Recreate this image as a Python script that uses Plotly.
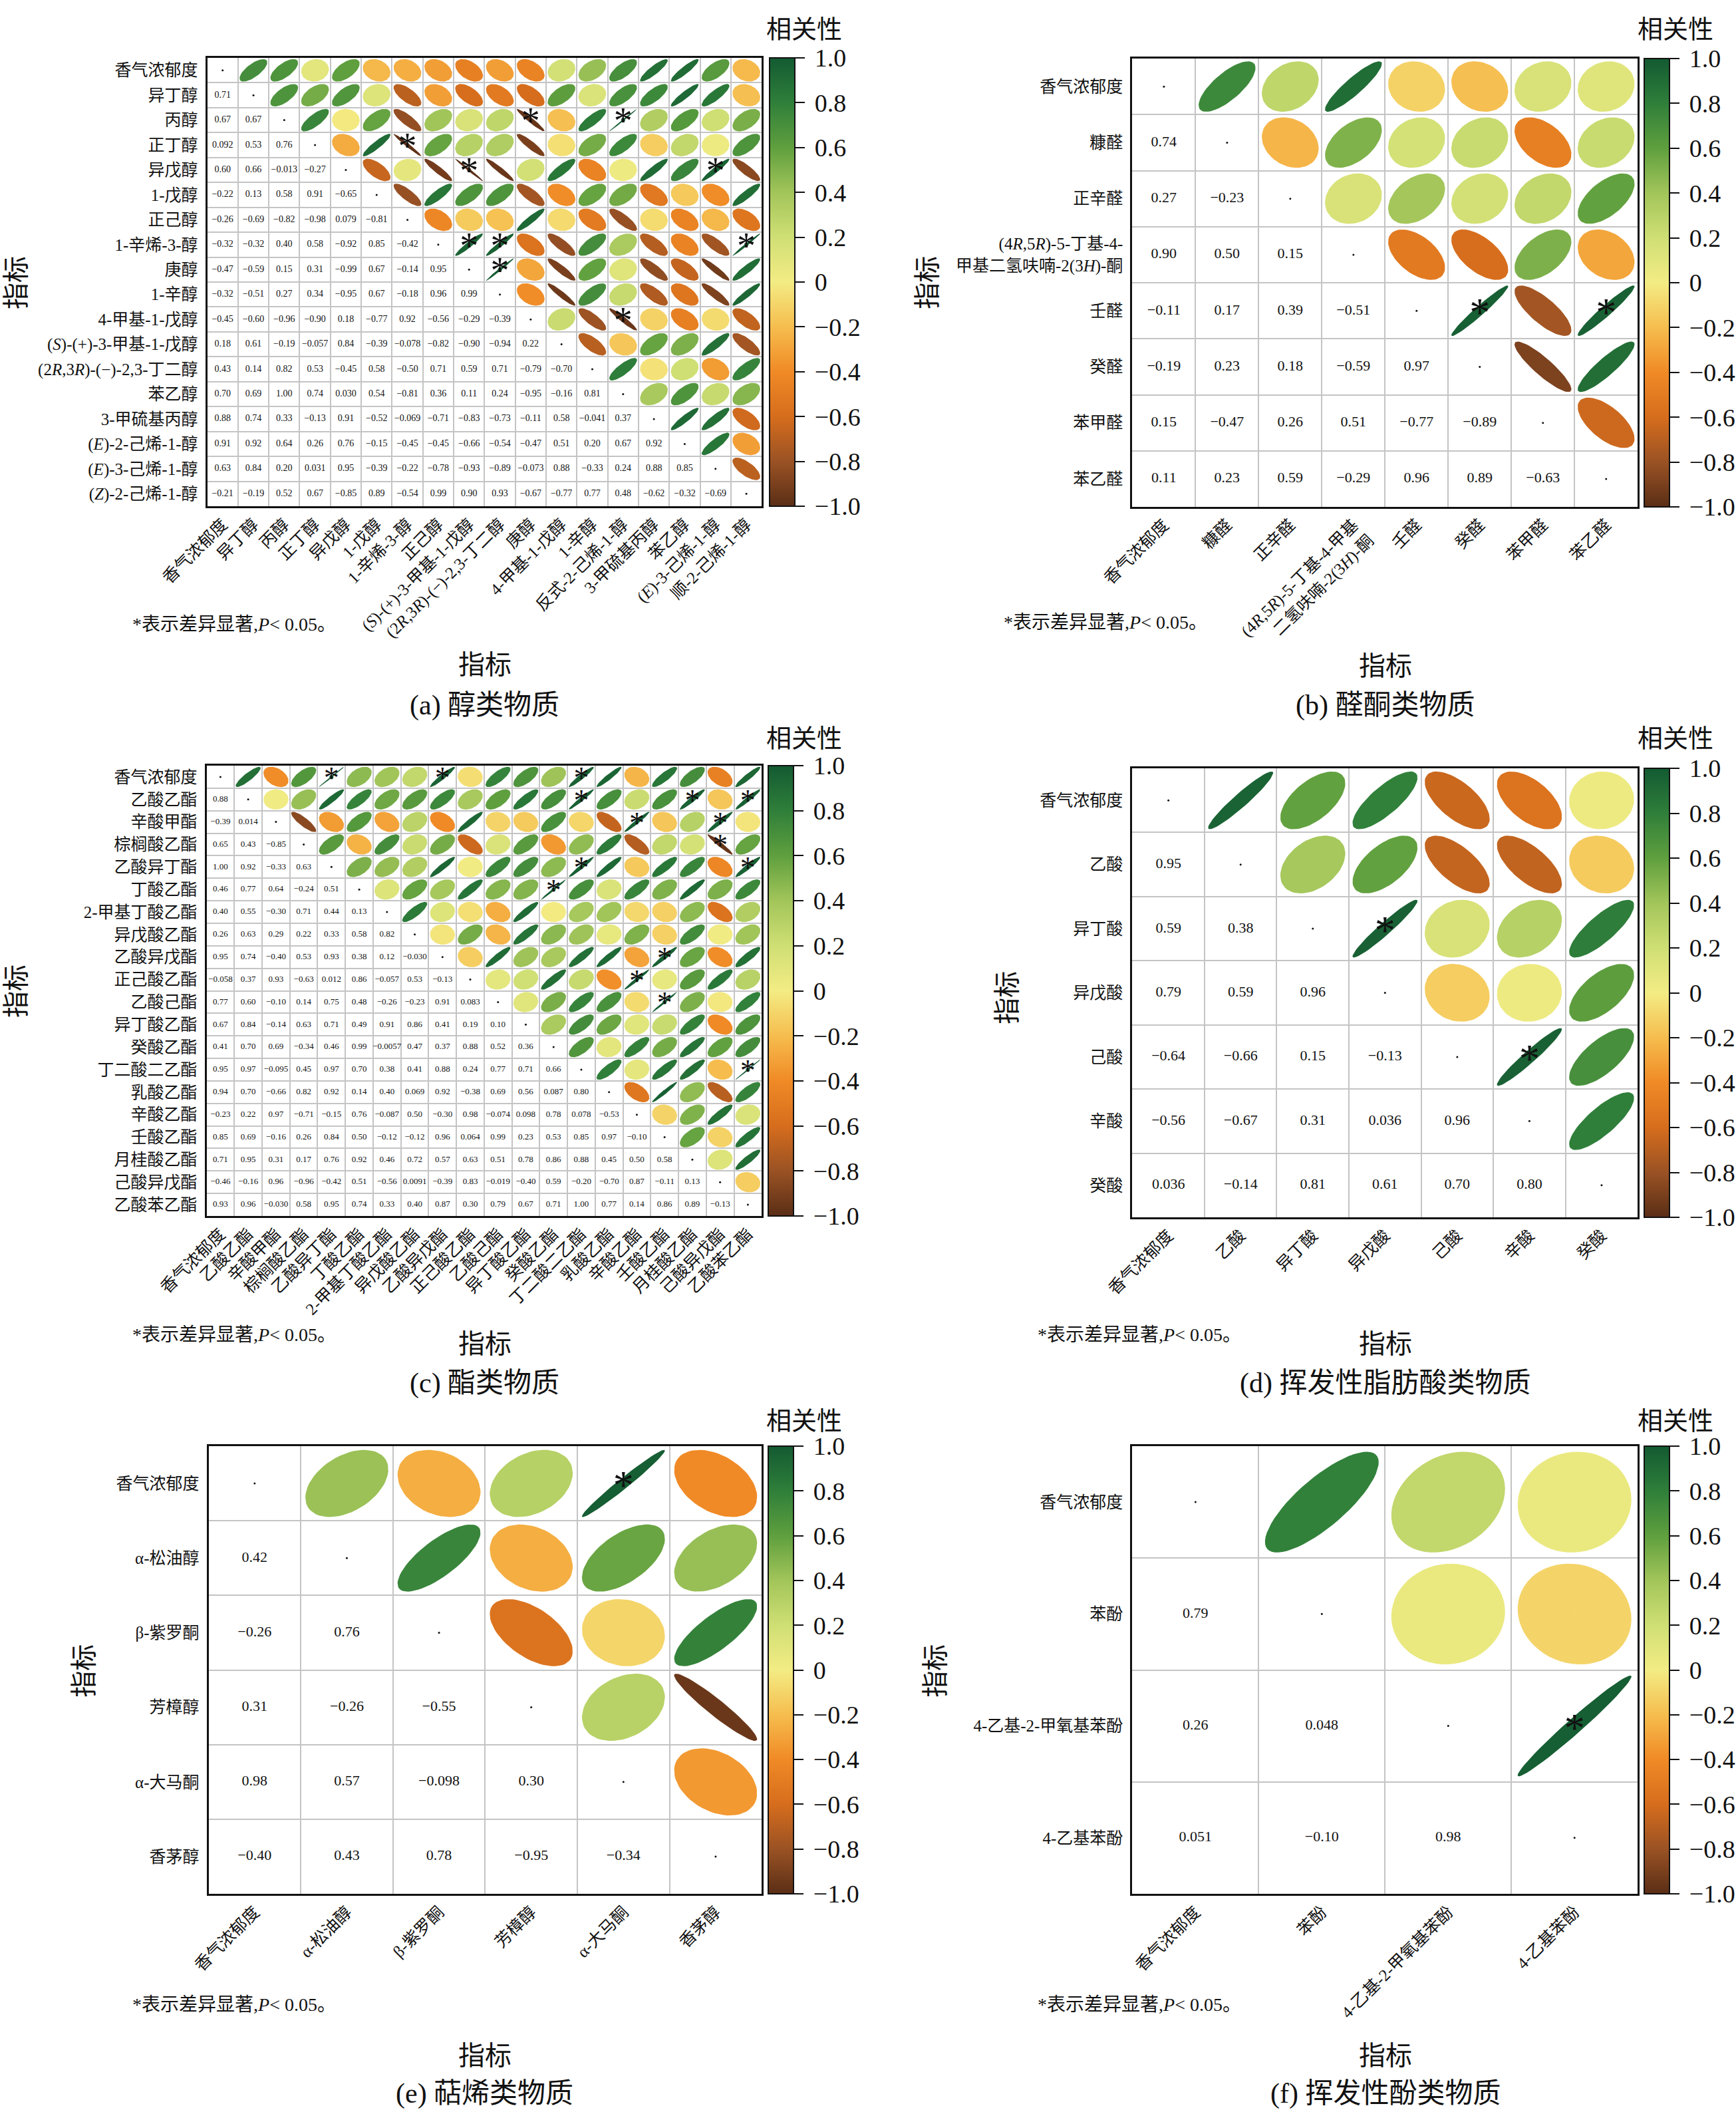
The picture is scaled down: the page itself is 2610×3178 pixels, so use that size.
import numpy as np
import plotly.graph_objects as go
from plotly.colors import sample_colorscale

W, H = 2610, 3178
FONT = "Liberation Serif, Noto Sans CJK SC, serif"
INK = "#111111"

# ---------------- data ----------------
labels_a = ["香气浓郁度", "异丁醇", "丙醇", "正丁醇", "异戊醇", "1-戊醇", "正己醇", "1-辛烯-3-醇", "庚醇",
            "1-辛醇", "4-甲基-1-戊醇", "(<i>S</i>)-(+)-3-甲基-1-戊醇", "(2<i>R</i>,3<i>R</i>)-(−)-2,3-丁二醇",
            "苯乙醇", "3-甲硫基丙醇", "(<i>E</i>)-2-己烯-1-醇", "(<i>E</i>)-3-己烯-1-醇", "(<i>Z</i>)-2-己烯-1-醇"]
labels_a_x = ["香气浓郁度", "异丁醇", "丙醇", "正丁醇", "异戊醇", "1-戊醇", "1-辛烯-3-醇", "正己醇",
              "(<i>S</i>)-(+)-3-甲基-1-戊醇", "(2<i>R</i>,3<i>R</i>)-(−)-2,3-丁二醇", "庚醇", "4-甲基-1-戊醇",
              "1-辛醇", "反式-2-己烯-1-醇", "3-甲硫基丙醇", "苯乙醇", "(<i>E</i>)-3-己烯-1-醇", "顺-2-己烯-1-醇"]
lower_a = [
    [0.71],
    [0.67, 0.67],
    [0.092, 0.53, 0.76],
    [0.60, 0.66, -0.013, -0.27],
    [-0.22, 0.13, 0.58, 0.91, -0.65],
    [-0.26, -0.69, -0.82, -0.98, 0.079, -0.81],
    [-0.32, -0.32, 0.40, 0.58, -0.92, 0.85, -0.42],
    [-0.47, -0.59, 0.15, 0.31, -0.99, 0.67, -0.14, 0.95],
    [-0.32, -0.51, 0.27, 0.34, -0.95, 0.67, -0.18, 0.96, 0.99],
    [-0.45, -0.60, -0.96, -0.90, 0.18, -0.77, 0.92, -0.56, -0.29, -0.39],
    [0.18, 0.61, -0.19, -0.057, 0.84, -0.39, -0.078, -0.82, -0.90, -0.94, 0.22],
    [0.43, 0.14, 0.82, 0.53, -0.45, 0.58, -0.50, 0.71, 0.59, 0.71, -0.79, -0.70],
    [0.70, 0.69, 1.00, 0.74, 0.030, 0.54, -0.81, 0.36, 0.11, 0.24, -0.95, -0.16, 0.81],
    [0.88, 0.74, 0.33, -0.13, 0.91, -0.52, -0.069, -0.71, -0.83, -0.73, -0.11, 0.58, -0.041, 0.37],
    [0.91, 0.92, 0.64, 0.26, 0.76, -0.15, -0.45, -0.45, -0.66, -0.54, -0.47, 0.51, 0.20, 0.67, 0.92],
    [0.63, 0.84, 0.20, 0.031, 0.95, -0.39, -0.22, -0.78, -0.93, -0.89, -0.073, 0.88, -0.33, 0.24, 0.88, 0.85],
    [-0.21, -0.19, 0.52, 0.67, -0.85, 0.89, -0.54, 0.99, 0.90, 0.93, -0.67, -0.77, 0.77, 0.48, -0.62, -0.32, -0.69],
]
stars_a = [(2, 10), (2, 13), (3, 6), (4, 8), (4, 16), (7, 8), (7, 9), (7, 17), (8, 9), (10, 13)]

labels_b = ["香气浓郁度", "糠醛", "正辛醛", "(4<i>R</i>,5<i>R</i>)-5-丁基-4-<br>甲基二氢呋喃-2(3<i>H</i>)-酮",
            "壬醛", "癸醛", "苯甲醛", "苯乙醛"]
labels_b_x = ["香气浓郁度", "糠醛", "正辛醛", "(4<i>R</i>,5<i>R</i>)-5-丁基-4-甲基<br>二氢呋喃-2(3<i>H</i>)-酮",
              "壬醛", "癸醛", "苯甲醛", "苯乙醛"]
lower_b = [
    [0.74],
    [0.27, -0.23],
    [0.90, 0.50, 0.15],
    [-0.11, 0.17, 0.39, -0.51],
    [-0.19, 0.23, 0.18, -0.59, 0.97],
    [0.15, -0.47, 0.26, 0.51, -0.77, -0.89],
    [0.11, 0.23, 0.59, -0.29, 0.96, 0.89, -0.63],
]
stars_b = [(4, 5), (4, 7)]

labels_c = ["香气浓郁度", "乙酸乙酯", "辛酸甲酯", "棕榈酸乙酯", "乙酸异丁酯", "丁酸乙酯", "2-甲基丁酸乙酯",
            "异戊酸乙酯", "乙酸异戊酯", "正己酸乙酯", "乙酸己酯", "异丁酸乙酯", "癸酸乙酯", "丁二酸二乙酯",
            "乳酸乙酯", "辛酸乙酯", "壬酸乙酯", "月桂酸乙酯", "己酸异戊酯", "乙酸苯乙酯"]
lower_c = [
    [0.88],
    [-0.39, 0.014],
    [0.65, 0.43, -0.85],
    [1.00, 0.92, -0.33, 0.63],
    [0.46, 0.77, 0.64, -0.24, 0.51],
    [0.40, 0.55, -0.30, 0.71, 0.44, 0.13],
    [0.26, 0.63, 0.29, 0.22, 0.33, 0.58, 0.82],
    [0.95, 0.74, -0.40, 0.53, 0.93, 0.38, 0.12, -0.030],
    [-0.058, 0.37, 0.93, -0.63, 0.012, 0.86, -0.057, 0.53, -0.13],
    [0.77, 0.60, -0.10, 0.14, 0.75, 0.48, -0.26, -0.23, 0.91, 0.083],
    [0.67, 0.84, -0.14, 0.63, 0.71, 0.49, 0.91, 0.86, 0.41, 0.19, 0.10],
    [0.41, 0.70, 0.69, -0.34, 0.46, 0.99, -0.0057, 0.47, 0.37, 0.88, 0.52, 0.36],
    [0.95, 0.97, -0.095, 0.45, 0.97, 0.70, 0.38, 0.41, 0.88, 0.24, 0.77, 0.71, 0.66],
    [0.94, 0.70, -0.66, 0.82, 0.92, 0.14, 0.40, 0.069, 0.92, -0.38, 0.69, 0.56, 0.087, 0.80],
    [-0.23, 0.22, 0.97, -0.71, -0.15, 0.76, -0.087, 0.50, -0.30, 0.98, -0.074, 0.098, 0.78, 0.078, -0.53],
    [0.85, 0.69, -0.16, 0.26, 0.84, 0.50, -0.12, -0.12, 0.96, 0.064, 0.99, 0.23, 0.53, 0.85, 0.97, -0.10],
    [0.71, 0.95, 0.31, 0.17, 0.76, 0.92, 0.46, 0.72, 0.57, 0.63, 0.51, 0.78, 0.86, 0.88, 0.45, 0.50, 0.58],
    [-0.46, -0.16, 0.96, -0.96, -0.42, 0.51, -0.56, 0.0091, -0.39, 0.83, -0.019, -0.40, 0.59, -0.20, -0.70,
     0.87, -0.11, 0.13],
    [0.93, 0.96, -0.030, 0.58, 0.95, 0.74, 0.33, 0.40, 0.87, 0.30, 0.79, 0.67, 0.71, 1.00, 0.77, 0.14, 0.86,
     0.89, -0.13],
]
stars_c = [(0, 4), (0, 8), (0, 13), (1, 13), (1, 17), (1, 19), (2, 15), (2, 18), (3, 18), (4, 13), (4, 19),
           (5, 12), (8, 16), (9, 15), (10, 16), (13, 19)]

labels_d = ["香气浓郁度", "乙酸", "异丁酸", "异戊酸", "己酸", "辛酸", "癸酸"]
lower_d = [
    [0.95],
    [0.59, 0.38],
    [0.79, 0.59, 0.96],
    [-0.64, -0.66, 0.15, -0.13],
    [-0.56, -0.67, 0.31, 0.036, 0.96],
    [0.036, -0.14, 0.81, 0.61, 0.70, 0.80],
]
stars_d = [(2, 3), (4, 5)]

labels_e = ["香气浓郁度", "α-松油醇", "β-紫罗酮", "芳樟醇", "α-大马酮", "香茅醇"]
lower_e = [
    [0.42],
    [-0.26, 0.76],
    [0.31, -0.26, -0.55],
    [0.98, 0.57, -0.098, 0.30],
    [-0.40, 0.43, 0.78, -0.95, -0.34],
]
stars_e = [(0, 4)]

labels_f = ["香气浓郁度", "苯酚", "4-乙基-2-甲氧基苯酚", "4-乙基苯酚"]
lower_f = [
    [0.79],
    [0.26, 0.048],
    [0.051, -0.10, 0.98],
]
stars_f = [(2, 3)]

cb_ticks = [-1.0, -0.8, -0.6, -0.4, -0.2, 0.0, 0.2, 0.4, 0.6, 0.8, 1.0]
cb_text = ["−1.0", "−0.8", "−0.6", "−0.4", "−0.2", "0", "0.2", "0.4", "0.6", "0.8", "1.0"]

COLORSCALE = [[0.0, "#5a2e16"], [0.1, "#9a5224"], [0.2, "#d66d1d"], [0.3, "#f08a26"],
              [0.4, "#f6bd4e"], [0.5, "#f3ec84"], [0.6, "#cfdf74"], [0.7, "#a2c55a"],
              [0.8, "#5f9f3e"], [0.9, "#2f7f3a"], [1.0, "#135a32"]]

# ---------------- layout config (pixel boxes) ----------------
panels = [
    dict(ylab=labels_a, xlab=labels_a_x, lower=lower_a, stars=stars_a, box=(312, 1147, 87, 761),
         num=14, star=56, cbx=1159, note=(197, 938), yt=(24, 425), xt=(730, 1000),
         cap=(730, 1060, "(a) 醇类物质"), cbt=(1211, 44)),
    dict(ylab=labels_b, xlab=labels_b_x, lower=lower_b, stars=stars_b, box=(1705, 2466, 88, 762),
         num=22, star=62, cbx=2476, note=(1509, 935), yt=(1396, 425), xt=(2086, 1001),
         cap=(2086, 1060, "(b) 醛酮类物质"), cbt=(2523, 44)),
    dict(ylab=labels_c, xlab=labels_c, lower=lower_c, stars=stars_c, box=(311, 1147, 1151, 1828),
         num=13, star=46, cbx=1157, note=(197, 2006), yt=(24, 1490), xt=(730, 2020),
         cap=(730, 2079, "(c) 酯类物质"), cbt=(1211, 1110)),
    dict(ylab=labels_d, xlab=labels_d, lower=lower_d, stars=stars_d, box=(1705, 2466, 1155, 1830),
         num=22, star=62, cbx=2476, note=(1560, 2006), yt=(1516, 1500), xt=(2086, 2020),
         cap=(2086, 2079, "(d) 挥发性脂肪酸类物质"), cbt=(2523, 1110)),
    dict(ylab=labels_e, xlab=labels_e, lower=lower_e, stars=stars_e, box=(314, 1147, 2174, 2847),
         num=22, star=62, cbx=1157, note=(197, 3013), yt=(126, 2512), xt=(730, 3090),
         cap=(730, 3147, "(e) 萜烯类物质"), cbt=(1211, 2136)),
    dict(ylab=labels_f, xlab=labels_f, lower=lower_f, stars=stars_f, box=(1705, 2466, 2174, 2847),
         num=22, star=62, cbx=2476, note=(1560, 3013), yt=(1408, 2512), xt=(2086, 3090),
         cap=(2086, 3147, "(f) 挥发性酚类物质"), cbt=(2523, 2136)),
]


def fmt(v):
    a = abs(v)
    if a >= 0.1 or a == 0:
        s = f"{a:.2f}"
    else:
        dec = -int(np.floor(np.log10(a))) + 1
        s = f"{a:.{dec}f}"
    return ("−" if v < 0 else "") + s


def ellipse(cx, cy, r, s=0.9, n=60):
    r = float(np.clip(r, -0.996, 0.996))
    d = np.arccos(r)
    t = np.linspace(0, 2 * np.pi, n)
    dx = np.cos(t + d / 2) / 2 * s
    dy = np.cos(t - d / 2) / 2 * s
    return cx + dx, cy - dy


def paper_ann(px, py, text, size, **kw):
    d = dict(x=px / W, y=1 - py / H, xref="paper", yref="paper", text=text, showarrow=False,
             xanchor="center", yanchor="middle", font=dict(size=size, family=FONT, color=INK))
    d.update(kw)
    return d


fig = go.Figure()
annotations = []
layout = dict(width=W, height=H, margin=dict(l=0, r=0, t=0, b=0), showlegend=False,
              paper_bgcolor="white", plot_bgcolor="white", font=dict(family=FONT, color=INK))

for k, p in enumerate(panels, start=1):
    ax = "" if k == 1 else str(k)
    xa, ya = "x" + ax, "y" + ax
    n = len(p["ylab"])
    M = np.eye(n)
    for i, row in enumerate(p["lower"], start=1):
        for j, v in enumerate(row):
            M[i, j] = v
            M[j, i] = v
    x0, x1, y0, y1 = p["box"]
    cell_h = (y1 - y0) / n

    # ellipses (upper triangle)
    ux, uy, uv = [], [], []
    for i in range(n):
        for j in range(i + 1, n):
            r = M[i, j]
            col = sample_colorscale(COLORSCALE, [(r + 1) / 2])[0]
            ex, ey = ellipse(j, i, r)
            fig.add_trace(go.Scatter(x=ex, y=ey, mode="lines", fill="toself", fillcolor=col,
                                     line=dict(width=0, color=col), hoverinfo="skip",
                                     xaxis=xa, yaxis=ya))
            ux.append(j); uy.append(i); uv.append(r)
    # colour-scale carrier (invisible markers at the upper cells)
    fig.add_trace(go.Scatter(x=ux, y=uy, mode="markers", hoverinfo="skip", xaxis=xa, yaxis=ya,
                             marker=dict(size=0, color=uv, coloraxis="coloraxis" + ax)))
    # numbers (lower triangle)
    lx, ly, lt = [], [], []
    for i in range(n):
        for j in range(i):
            lx.append(j); ly.append(i); lt.append(fmt(M[i, j]))
    fig.add_trace(go.Scatter(x=lx, y=ly, mode="text", text=lt, textposition="middle center",
                             textfont=dict(size=p["num"], family=FONT, color=INK),
                             hoverinfo="skip", xaxis=xa, yaxis=ya))
    # diagonal dots
    fig.add_trace(go.Scatter(x=list(range(n)), y=list(range(n)), mode="markers",
                             marker=dict(size=3, color=INK), hoverinfo="skip", xaxis=xa, yaxis=ya))
    # significance stars
    sx = [c for (rr, c) in p["stars"]]
    sy = [rr + 0.12 * p["star"] / cell_h for (rr, c) in p["stars"]]
    fig.add_trace(go.Scatter(x=sx, y=sy, mode="text", text=["*"] * len(sx), textposition="middle center",
                             textfont=dict(size=p["star"], family="Liberation Serif", color=INK),
                             hoverinfo="skip", xaxis=xa, yaxis=ya))

    grid = [g - 0.5 for g in range(n + 1)]
    common = dict(showgrid=False, zeroline=False, showline=True, mirror=True, linecolor=INK, linewidth=3,
                  ticks="", tickmode="array", tickvals=list(range(n)),
                  tickfont=dict(size=25, family=FONT, color=INK), automargin=False,
                  minor=dict(tickmode="array", tickvals=grid, showgrid=True, gridcolor="#c4c4c4",
                             gridwidth=2, ticks=""),
                  fixedrange=True)
    layout["xaxis" + ax] = dict(common, domain=[x0 / W, x1 / W], range=[-0.5, n - 0.5],
                                ticktext=p["xlab"], tickangle=-45, anchor=ya)
    layout["yaxis" + ax] = dict(common, domain=[1 - y1 / H, 1 - y0 / H], range=[n - 0.5, -0.5],
                                ticktext=p["ylab"], anchor=xa, ticklabelstandoff=6)
    layout["coloraxis" + ax] = dict(
        colorscale=COLORSCALE, cmin=-1, cmax=1,
        colorbar=dict(x=p["cbx"] / W, xanchor="left", xpad=0, ypad=0,
                      y=1 - (y0 + y1) / 2 / H, yanchor="middle", len=(y1 - y0) / H, lenmode="fraction",
                      thickness=38, thicknessmode="pixels", outlinewidth=2, outlinecolor=INK,
                      ticks="outside", ticklen=14, tickwidth=2, tickcolor=INK,
                      tickmode="array", tickvals=cb_ticks, ticktext=["\u2009" + t for t in cb_text],
                      tickfont=dict(size=38, family=FONT, color=INK)))

    annotations += [
        paper_ann(p["cbt"][0], p["cbt"][1], "相关性", 38),
        paper_ann(p["yt"][0], p["yt"][1], "指标", 40, textangle=-90),
        paper_ann(p["xt"][0], p["xt"][1], "指标", 40),
        paper_ann(p["cap"][0], p["cap"][1], p["cap"][2], 42),
        paper_ann(p["note"][0], p["note"][1], "*表示差异显著,<i>P</i>< 0.05。", 28, xanchor="left"),
    ]

layout["annotations"] = annotations
fig.update_layout(**layout)
fig.write_html("out.html", config={"displayModeBar": False},
               post_script="document.body.style.margin='0';")
